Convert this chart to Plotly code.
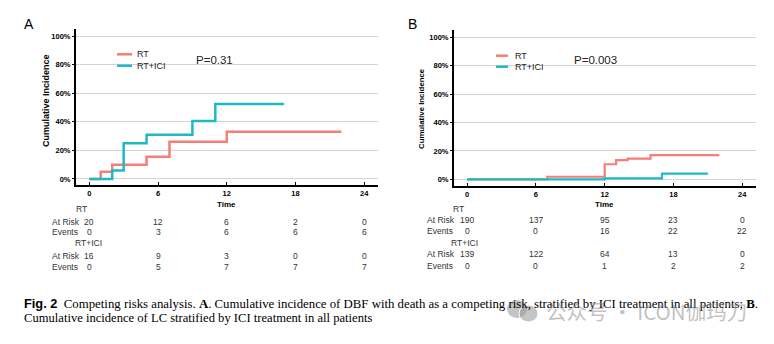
import plotly.graph_objects as go

W, H = 774, 344

# ---------------- data ----------------
months = [0, 6, 12, 18, 24]
pct_ticks = [0, 20, 40, 60, 80, 100]
pct_labels = ["0%", "20%", "40%", "60%", "80%", "100%"]

a_rt_t = [0, 1, 2, 5, 7, 12, 22]
a_rt_y = [0, 5, 10, 15.5, 26, 33, 33]
a_ici_t = [0, 2, 3, 5, 9, 11, 17]
a_ici_y = [0, 6, 25, 31, 40.5, 52.5, 52.5]

b_rt_t = [0, 7, 12, 13, 14, 16, 22]
b_rt_y = [0, 1.8, 10.6, 13.5, 14.5, 17, 17]
b_ici_t = [0, 12, 17, 21]
b_ici_y = [0, 0.7, 4, 4]

a_rt_risk = ["20", "12", "6", "2", "0"]
a_rt_events = ["0", "3", "6", "6", "6"]
a_ici_risk = ["16", "9", "3", "0", "0"]
a_ici_events = ["0", "5", "7", "7", "7"]

b_rt_risk = ["190", "137", "95", "23", "0"]
b_rt_events = ["0", "0", "16", "22", "22"]
b_ici_risk = ["139", "122", "64", "13", "0"]
b_ici_events = ["0", "0", "1", "2", "2"]

p_a = "P=0.31"
p_b = "P=0.003"
groups = ["RT", "RT+ICI"]

RED = "#F47E78"
CYAN = "#1DBAC6"
SANS = "Liberation Sans, Arial, sans-serif"
SERIF = "Liberation Serif, Times New Roman, serif"


def X(px):
    return px / W


def Y(py):
    return 1 - py / H


fig = go.Figure()

fig.add_trace(go.Scatter(x=a_rt_t, y=a_rt_y, mode="lines", line=dict(shape="hv", color=RED, width=2.5),
                         xaxis="x", yaxis="y", showlegend=False))
fig.add_trace(go.Scatter(x=a_ici_t, y=a_ici_y, mode="lines", line=dict(shape="hv", color=CYAN, width=2.5),
                         xaxis="x", yaxis="y", showlegend=False))
fig.add_trace(go.Scatter(x=b_rt_t, y=b_rt_y, mode="lines", line=dict(shape="hv", color=RED, width=2.2),
                         xaxis="x2", yaxis="y2", showlegend=False))
fig.add_trace(go.Scatter(x=b_ici_t, y=b_ici_y, mode="lines", line=dict(shape="hv", color=CYAN, width=2.2),
                         xaxis="x2", yaxis="y2", showlegend=False))

tickfont = dict(family=SANS, size=7.5, color="black", weight="bold")


def xax(domain, rng, anchor):
    return dict(domain=domain, range=rng, anchor=anchor, tickvals=months, ticktext=[str(m) for m in months],
                showline=True, linecolor="black", linewidth=2, ticks="inside", ticklen=3,
                tickcolor="black", tickwidth=1, showgrid=False, zeroline=False, tickfont=tickfont)


def yax(domain, rng, anchor):
    return dict(domain=domain, range=rng, anchor=anchor, tickvals=pct_ticks, ticktext=pct_labels,
                showline=True, linecolor="black", linewidth=2, ticks="outside", ticklen=2,
                tickcolor="black", tickwidth=1, showgrid=True, gridcolor="#d4d4d4", gridwidth=1.2,
                zeroline=False, tickfont=tickfont)


fig.update_layout(
    width=W, height=H, margin=dict(l=0, r=0, t=0, b=0),
    paper_bgcolor="white", plot_bgcolor="white",
    xaxis=xax([X(76), X(378)], [-1.16, 25.2], "y"),
    yaxis=yax([Y(185), Y(29)], [-4.2, 104.9], "x"),
    xaxis2=xax([X(454), X(756)], [-1.14, 25.2], "y2"),
    yaxis2=yax([Y(186), Y(30)], [-4.7, 105.1], "x2"),
)

ann = []
shapes = []


def txt(x, y, s, size=8.5, bold=False, xanchor="center", color="#333", family=SANS, xref="paper"):
    ann.append(dict(x=x, y=Y(y), xref=xref, yref="paper", text=s, showarrow=False, xanchor=xanchor,
                    yanchor="middle", font=dict(family=family, size=size, color=color,
                                                weight="bold" if bold else "normal")))


# panel letters
txt(X(22), 24, "A", size=14, xanchor="left", color="black")
txt(X(406), 24, "B", size=14, xanchor="left", color="black")

# y axis titles
ann.append(dict(x=X(46), y=Y(101), xref="paper", yref="paper", text="Cumulative Incidence", textangle=-90,
                xanchor="center", yanchor="middle",
                showarrow=False, font=dict(family=SANS, size=9, color="black", weight="bold")))
ann.append(dict(x=X(421.5), y=Y(108.5), xref="paper", yref="paper", text="Cumulative Incidence", textangle=-90,
                xanchor="center", yanchor="middle",
                showarrow=False, font=dict(family=SANS, size=7.8, color="black", weight="bold")))

# legends
for (x0, x1, ys, tx) in [(117, 132, (54.3, 65.7), 135), (496, 508, (55.7, 66.7), 513)]:
    for yy, col, g in zip(ys, [RED, CYAN], groups):
        shapes.append(dict(type="line", xref="paper", yref="paper", x0=X(x0), x1=X(x1), y0=Y(yy), y1=Y(yy),
                           line=dict(color=col, width=2.5)))
        txt(X(tx), yy, g, size=9, xanchor="left", color="#222")

txt(X(194), 60, p_a, size=11.5, xanchor="left", color="#222")
txt(X(571.5), 60, p_b, size=11.5, xanchor="left", color="#222")

# "Time" labels
txt(12, 204, "Time", size=8, bold=True, color="black", xref="x")
txt(12, 204, "Time", size=8, bold=True, color="black", xref="x2")

# risk tables
def table(xref, lab_x, hdr_rt_x, hdr_ici_x, rows_y, rt_risk, rt_ev, ici_risk, ici_ev):
    y_rt, y_r1, y_e1, y_ici, y_r2, y_e2 = rows_y
    txt(X(hdr_rt_x), y_rt, groups[0])
    txt(X(hdr_ici_x), y_ici, groups[1])
    for yy, lab in [(y_r1, "At Risk"), (y_e1, "Events"), (y_r2, "At Risk"), (y_e2, "Events")]:
        txt(X(lab_x), yy, lab, xanchor="left")
    for vals, yy in [(rt_risk, y_r1), (rt_ev, y_e1), (ici_risk, y_r2), (ici_ev, y_e2)]:
        for m, v in zip(months, vals):
            txt(m, yy, v, xref=xref)


table("x", 50, 81, 88, (209, 222, 232, 243, 256, 267), a_rt_risk, a_rt_events, a_ici_risk, a_ici_events)
table("x2", 425, 458, 465, (209, 219.5, 231, 242.5, 254, 266), b_rt_risk, b_rt_events, b_ici_risk, b_ici_events)

# caption
line1 = ("<span style=\"font-family:'Liberation Sans Narrow','Liberation Sans';font-weight:bold\">Fig. 2</span>"
         "  Competing risks analysis. <b>A</b>. Cumulative incidence of DBF with death as a competing risk, "
         "stratified by ICI treatment in all patients; <b>B</b>.")
line2 = "Cumulative incidence of LC stratified by ICI treatment in all patients"
txt(X(21.5), 303, line1, size=12.8, xanchor="left", color="black", family=SERIF)
txt(X(21.5), 317.5, line2, size=12.6, xanchor="left", color="black", family=SERIF)

# watermark
shapes.append(dict(type="circle", xref="paper", yref="paper", x0=X(507), x1=X(527), y0=Y(318), y1=Y(300),
                   fillcolor="rgba(150,150,150,0.55)", line=dict(width=0)))
shapes.append(dict(type="circle", xref="paper", yref="paper", x0=X(519), x1=X(538), y0=Y(322), y1=Y(305),
                   fillcolor="rgba(150,150,150,0.55)", line=dict(color="white", width=1)))
txt(X(544), 311, "公众号 · ICON伽玛刀", size=20.5, xanchor="left", color="rgba(140,140,140,0.55)",
    family="Noto Sans CJK SC")

fig.update_layout(annotations=ann, shapes=shapes)
fig.write_html("out.html")
